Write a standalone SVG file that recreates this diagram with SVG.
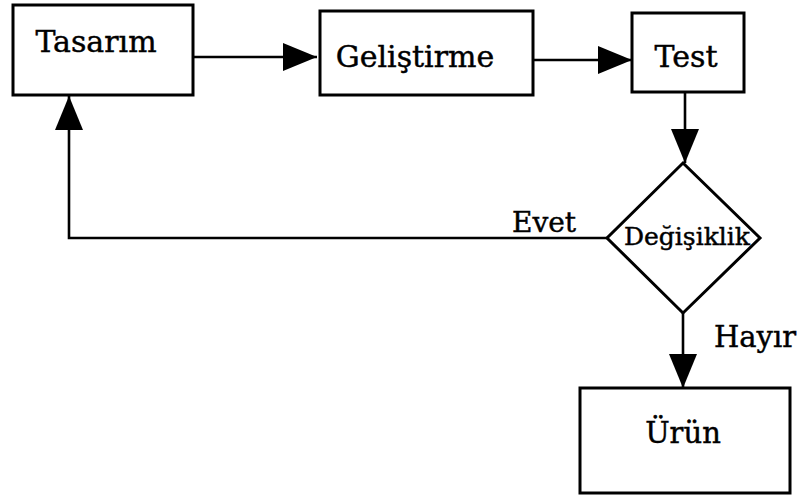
<svg xmlns="http://www.w3.org/2000/svg" width="804" height="498" viewBox="0 0 804 498">
  <style>
    .box { fill: #ffffff; stroke: #000000; stroke-width: 3; }
    .link { fill: none; stroke: #000000; stroke-width: 2.6; }
    .label { font-family: "DejaVu Serif", "Liberation Serif", serif; fill: #000000; stroke: #000000; stroke-width: 0.45; }
  </style>
  <defs>
    <marker id="arrow" viewBox="0 0 34 28" markerWidth="34" markerHeight="28" refX="34" refY="14" markerUnits="userSpaceOnUse" orient="auto">
      <path d="M0,0 L34,14 L0,28 Z" fill="#000000"/>
    </marker>
  </defs>
  <rect width="804" height="498" fill="#ffffff"/>

  <!-- connectors -->
  <g id="connectors">
    <path class="link" d="M193,57 L317,57" marker-end="url(#arrow)"/>
    <path class="link" d="M533,60 L632,60" marker-end="url(#arrow)"/>
    <path class="link" d="M685,92 L685,163" marker-end="url(#arrow)"/>
    <path class="link" d="M607,238 L69,238 L69,96" marker-end="url(#arrow)"/>
    <path class="link" d="M683,313 L683,388" marker-end="url(#arrow)"/>
    <text class="label" x="512" y="232" font-size="28">Evet</text>
    <text class="label" x="714" y="347" font-size="29">Hayır</text>
  </g>

  <g id="tasarim">
    <rect class="box" x="13" y="5" width="180" height="90"/>
    <text class="label" x="96" y="52" font-size="30" text-anchor="middle">Tasarım</text>
  </g>

  <g id="gelistirme">
    <rect class="box" x="320" y="11" width="213" height="84"/>
    <text class="label" x="415" y="67" font-size="30" text-anchor="middle">Geliştirme</text>
  </g>

  <g id="test">
    <rect class="box" x="632" y="13" width="112" height="79"/>
    <text class="label" x="686" y="67" font-size="30" text-anchor="middle">Test</text>
  </g>

  <g id="degisiklik">
    <polygon class="box" points="683,163 760,238 683,313 607,238"/>
    <text class="label" x="687" y="245" font-size="25" text-anchor="middle">Değişiklik</text>
  </g>

  <g id="urun">
    <rect class="box" x="580" y="388" width="210" height="105"/>
    <text class="label" x="683" y="443" font-size="29" text-anchor="middle">Ürün</text>
  </g>
</svg>
